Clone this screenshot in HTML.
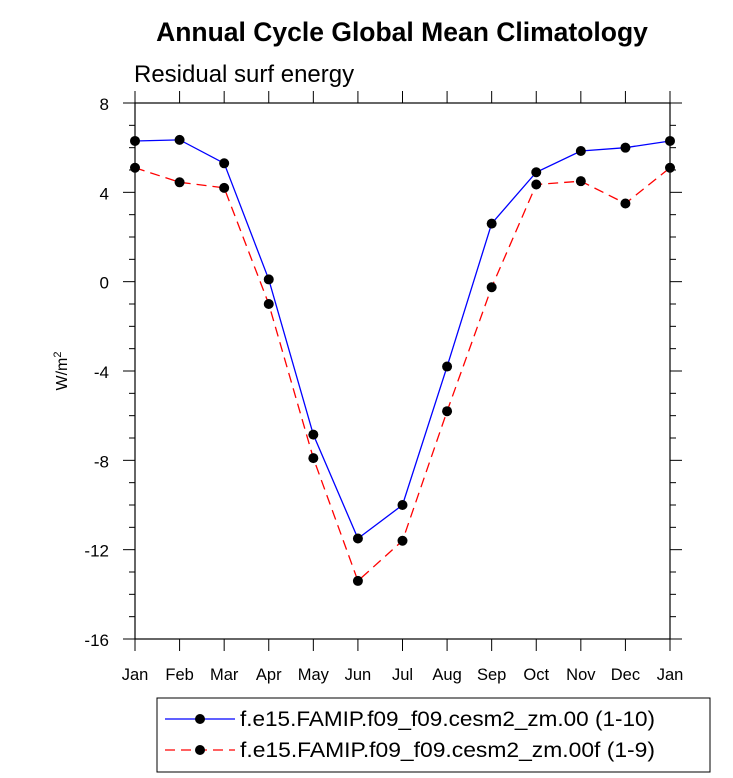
<!DOCTYPE html>
<html><head><meta charset="utf-8"><style>body{margin:0;background:#fff}svg{display:block;font-family:"Liberation Sans",sans-serif}</style></head>
<body>
<svg id="c" width="733" height="778">
<text x="402" y="41" text-anchor="middle" font-size="26.5" font-weight="bold">Annual Cycle Global Mean Climatology</text>
<text x="134" y="82" font-size="24">Residual surf energy</text>
<text transform="translate(67,371) rotate(-90)" text-anchor="middle" font-size="16">W/m<tspan dy="-6" font-size="11">2</tspan></text>
<rect x="135" y="103" width="535" height="536" fill="none" stroke="#000" stroke-width="1.2"/>
<g id="ax"></g><g id="series"></g>
<rect x="157" y="698" width="553" height="74" fill="none" stroke="#000" stroke-width="1"/>
<g>
<line x1="165" y1="719" x2="235" y2="719" stroke="#0000ff" stroke-width="1.3"/><circle cx="200" cy="719" r="5"/>
<text x="240" y="726" font-size="21" textLength="415" lengthAdjust="spacingAndGlyphs">f.e15.FAMIP.f09_f09.cesm2_zm.00 (1-10)</text></g>
<g>
<line x1="165" y1="750" x2="235" y2="750" stroke="#ff0000" stroke-width="1.3" stroke-dasharray="10,6"/><circle cx="200" cy="750" r="5"/>
<text x="240" y="757" font-size="21" textLength="415" lengthAdjust="spacingAndGlyphs">f.e15.FAMIP.f09_f09.cesm2_zm.00f (1-9)</text></g>
</svg>
<script>
const months=["Jan","Feb","Mar","Apr","May","Jun","Jul","Aug","Sep","Oct","Nov","Dec","Jan"];
const blueVals=[6.3,6.35,5.3,0.1,-6.85,-11.5,-10.0,-3.8,2.6,4.9,5.85,6.0,6.3];
const redVals=[5.1,4.45,4.2,-1.0,-7.9,-13.4,-11.6,-5.8,-0.25,4.35,4.5,3.5,5.1];
const yTicks=[8,4,0,-4,-8,-12,-16];
const NS="http://www.w3.org/2000/svg";
const X=i=>135+i*(535/12), Y=v=>103+(8-v)*(536/24);
function mk(t,a,p){const e=document.createElementNS(NS,t);for(const k in a)e.setAttribute(k,a[k]);p.appendChild(e);return e;}
const ax=document.getElementById('ax');
months.forEach((m,i)=>{const x=X(i);
 mk('line',{x1:x,x2:x,y1:639,y2:651,stroke:'#000'},ax);
 mk('line',{x1:x,x2:x,y1:103,y2:91,stroke:'#000'},ax);
 const t=mk('text',{x:x,y:680,'text-anchor':'middle','font-size':16.5},ax);t.textContent=m;
 
 });
for(let v=-16;v<=8;v++){const y=Y(v),L=v%4==0?12:6;
 mk('line',{x1:135-L,x2:135,y1:y,y2:y,stroke:'#000'},ax);
 mk('line',{x1:670,x2:670+L,y1:y,y2:y,stroke:'#000'},ax);}
yTicks.forEach(v=>{const t=mk('text',{x:109,y:Y(v)+7,'text-anchor':'end','font-size':17},ax);t.textContent=v;
 
 });
const sg=document.getElementById('series');
function draw(vals,col,dash,name){const g=mk('g',{},sg);
 
 
 mk('polyline',{points:vals.map((v,i)=>X(i)+','+Y(v)).join(' '),fill:'none',stroke:col,'stroke-width':1.3,'stroke-dasharray':dash},g);
 vals.forEach((v,i)=>{const c=mk('circle',{cx:X(i),cy:Y(v),r:5},g);
  
  });}
draw(redVals,'#ff0000','10,6','series-00f');
draw(blueVals,'#0000ff','none','series-00');
</script>
</body></html>
